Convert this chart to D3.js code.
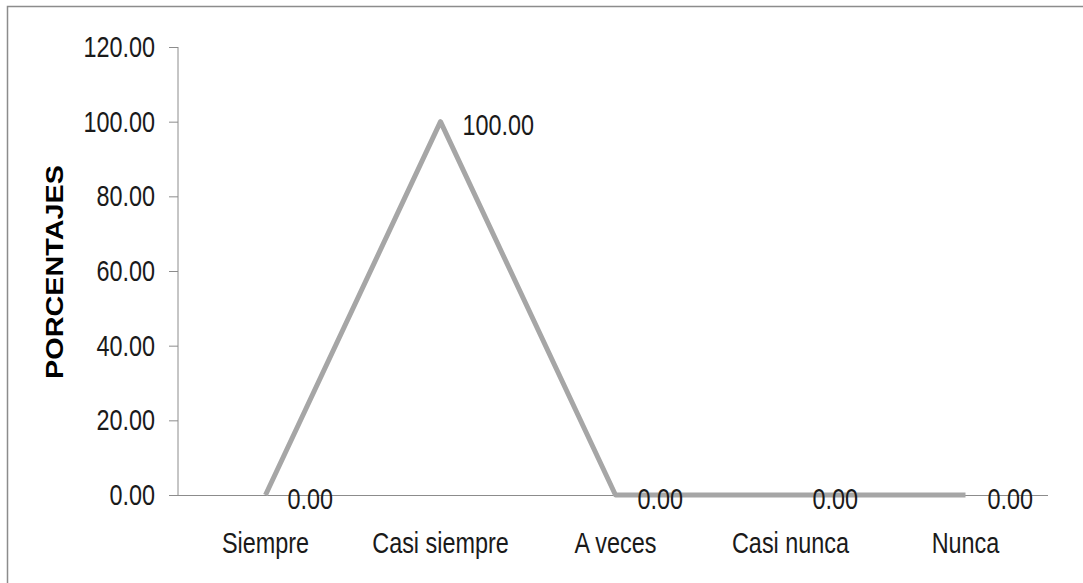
<!DOCTYPE html>
<html>
<head>
<script src="https://cdn.jsdelivr.net/npm/d3@7"></script>
<style>
  body { margin: 0; padding: 0; background: #fff; }
  svg { display: block; }
  text { font-family: "Liberation Sans Narrow", "Arial Narrow", "Liberation Sans", sans-serif; fill: #1a1a1a; }
</style>
</head>
<body>
<div id="viz"></div>
<script>
// data
var categories = ["Siempre", "Casi siempre", "A veces", "Casi nunca", "Nunca"];
var values = [0, 100, 0, 0, 0];
var yTicks = [0, 20, 40, 60, 80, 100, 120];
var yTitle = "PORCENTAJES";

var W = 1083, H = 583;
var mLeft = 178, mRight = 1053, mTop = 47, mBottom = 495;
var fs = 30;

var svg = d3.select("#viz").append("svg")
  .attr("width", W).attr("height", H);

// chart frame (only top and left edge show)
svg.append("rect")
  .attr("x", 7.5).attr("y", 6.5)
  .attr("width", W + 20).attr("height", H + 20)
  .attr("fill", "none").attr("stroke", "#8c8c8c").attr("stroke-width", 1.5);

var x = d3.scaleBand().domain(categories).range([mLeft, mRight]);
var y = d3.scaleLinear().domain([0, 120]).range([mBottom, mTop]);

function cx(d, i) { return x(categories[i]) + x.bandwidth() / 2; }

// squeeze text to look like the condensed original font
function narrow(sel) {
  sel.each(function() {
    var len = this.getComputedTextLength();
    d3.select(this).attr("textLength", len * 0.78)
      .attr("lengthAdjust", "spacingAndGlyphs");
  });
}

// y axis
var yAxis = svg.append("g")
  .attr("transform", "translate(" + mLeft + ",0)")
  .call(d3.axisLeft(y).tickValues(yTicks).tickSize(9).tickPadding(14)
    .tickFormat(d3.format(".2f")));
yAxis.attr("font-family", null).attr("font-size", fs);
yAxis.selectAll("line, path").attr("stroke", "#8c8c8c");
yAxis.selectAll("text").attr("font-size", fs).attr("fill", "#1a1a1a").call(narrow);
yAxis.select(".domain").attr("d", "M0," + mTop + "V" + mBottom);

// x axis (no tick marks)
var xAxis = svg.append("g")
  .attr("transform", "translate(0," + mBottom + ")")
  .call(d3.axisBottom(x).tickSize(0).tickPadding(37));
xAxis.attr("font-family", null).attr("font-size", fs);
xAxis.select(".domain").attr("stroke", "#8c8c8c")
  .attr("d", "M" + (mLeft - 9) + ",0.5H" + (mRight - 5));
xAxis.selectAll("text").attr("font-size", fs).attr("fill", "#1a1a1a").call(narrow);

// line
var line = d3.line().x(cx).y(function(d) { return y(d); });
svg.append("path")
  .datum(values)
  .attr("d", line)
  .attr("fill", "none")
  .attr("stroke", "#a6a6a6")
  .attr("stroke-width", 5)
  .attr("stroke-linejoin", "round");

// data labels
svg.selectAll(".lbl").data(values).enter().append("text")
  .attr("class", "lbl")
  .attr("x", function(d, i) { return cx(d, i) + 22; })
  .attr("y", function(d) { return y(d) + 3; })
  .attr("dy", "0.35em")
  .attr("font-size", fs)
  .text(d3.format(".2f"))
  .call(narrow);

// y title
svg.append("text")
  .attr("transform", "translate(63,272) rotate(-90)")
  .attr("text-anchor", "middle")
  .attr("font-size", 23)
  .attr("font-weight", "bold")
  .attr("textLength", 214)
  .attr("lengthAdjust", "spacingAndGlyphs")
  .style("font-family", "'Liberation Sans', Arial, sans-serif")
  .style("fill", "#000")
  .text(yTitle);
</script>
</body>
</html>
